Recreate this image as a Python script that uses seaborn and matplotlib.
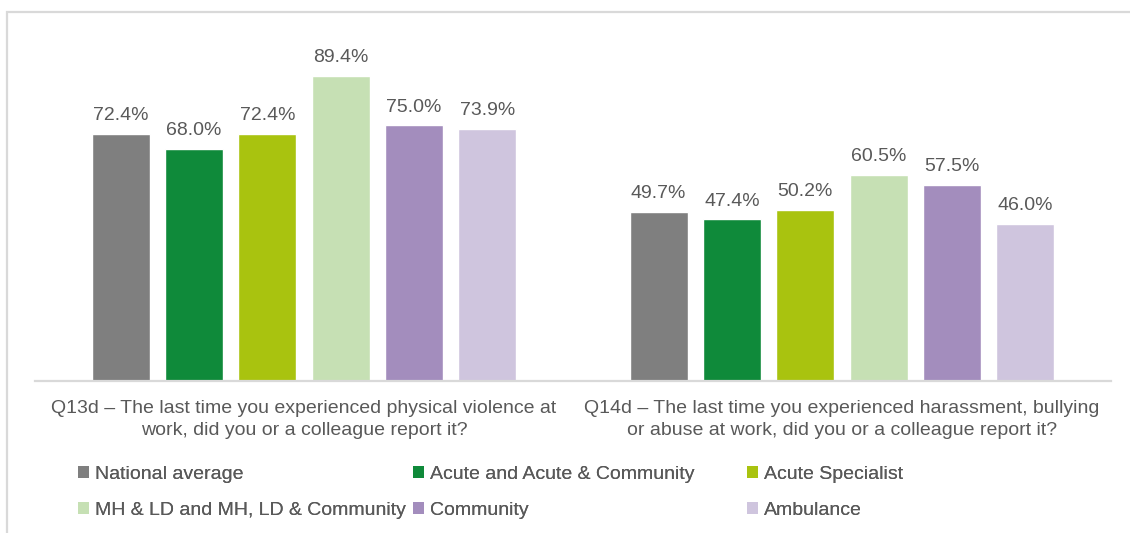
import matplotlib
matplotlib.use("Agg")
import matplotlib.pyplot as plt
from matplotlib.patches import Rectangle, Patch
import pandas as pd
import seaborn as sns

# Survey questions (x categories)
questions = [
    "Q13d \u2013 The last time you experienced physical violence at\nwork, did you or a colleague report it?",
    "Q14d \u2013 The last time you experienced harassment, bullying\nor abuse at work, did you or a colleague report it?",
]

# Trust groups (hue)
groups = [
    "National average",
    "Acute and Acute & Community",
    "Acute Specialist",
    "MH & LD and MH, LD & Community",
    "Community",
    "Ambulance",
]

# Percentage reporting, per group: [Q13d, Q14d]
national_average = [72.4, 49.7]
acute_and_community = [68.0, 47.4]
acute_specialist = [72.4, 50.2]
mh_ld = [89.4, 60.5]
community = [75.0, 57.5]
ambulance = [73.9, 46.0]

colors = ["#7f7f7f", "#0f8a3a", "#a9c30f", "#c6e0b4", "#a38dbd", "#cfc5de"]
text_color = "#595959"

series = [national_average, acute_and_community, acute_specialist, mh_ld, community, ambulance]
rows = []
for g, vals in zip(groups, series):
    for q, v in zip(questions, vals):
        rows.append({"question": q, "group": g, "value": v})
df = pd.DataFrame(rows)

sns.set_theme(style="white")
plt.rcParams["font.family"] = ["Liberation Sans", "DejaVu Sans"]

W, H = 1130, 533
fig = plt.figure(figsize=(W / 100, H / 100), dpi=100)
ax = fig.add_axes([35 / W, 1 - 381 / H, (1111 - 35) / W, 341 / H])

sns.barplot(
    data=df, x="question", y="value", hue="group", hue_order=groups,
    order=questions, palette=colors, width=0.818, gap=0.21,
    saturation=1, ax=ax, legend=False,
)

for cont in ax.containers:
    ax.bar_label(cont, fmt="%.1f%%", padding=7, fontsize=14, color=text_color)

ax.set_ylim(0, 100)
ax.set_xlim(-0.5, 1.5)
ax.set_xlabel("")
ax.set_ylabel("")
ax.set_yticks([])
for s in ["top", "left", "right"]:
    ax.spines[s].set_visible(False)
ax.spines["bottom"].set_color("#d9d9d9")
ax.spines["bottom"].set_linewidth(1.6)
ax.tick_params(axis="x", length=0, pad=14, labelsize=14, labelcolor=text_color)
for lbl in ax.get_xticklabels():
    lbl.set_linespacing(1.32)

# Legend: three columns of two entries each
col_x = [78, 413, 747]
for c in range(3):
    idx = [c, c + 3]
    handles = [Patch(facecolor=colors[i], edgecolor="none") for i in idx]
    leg = fig.legend(
        handles, [groups[i] for i in idx], loc="upper left",
        bbox_to_anchor=(col_x[c] / W, 1 - 466 / H), frameon=False,
        fontsize=14, handlelength=0.55, handleheight=0.55, handletextpad=0.3,
        labelspacing=0.98, borderaxespad=0, borderpad=0,
        labelcolor=text_color,
    )
    fig.add_artist(leg)

# Outer frame
fig.add_artist(Rectangle((7 / W, -0.1), 1.2, 1.1 - 12 / H, transform=fig.transFigure,
                         fill=False, edgecolor="#d9d9d9", linewidth=1.6))

fig.savefig("out.png", dpi=100, facecolor="white")
